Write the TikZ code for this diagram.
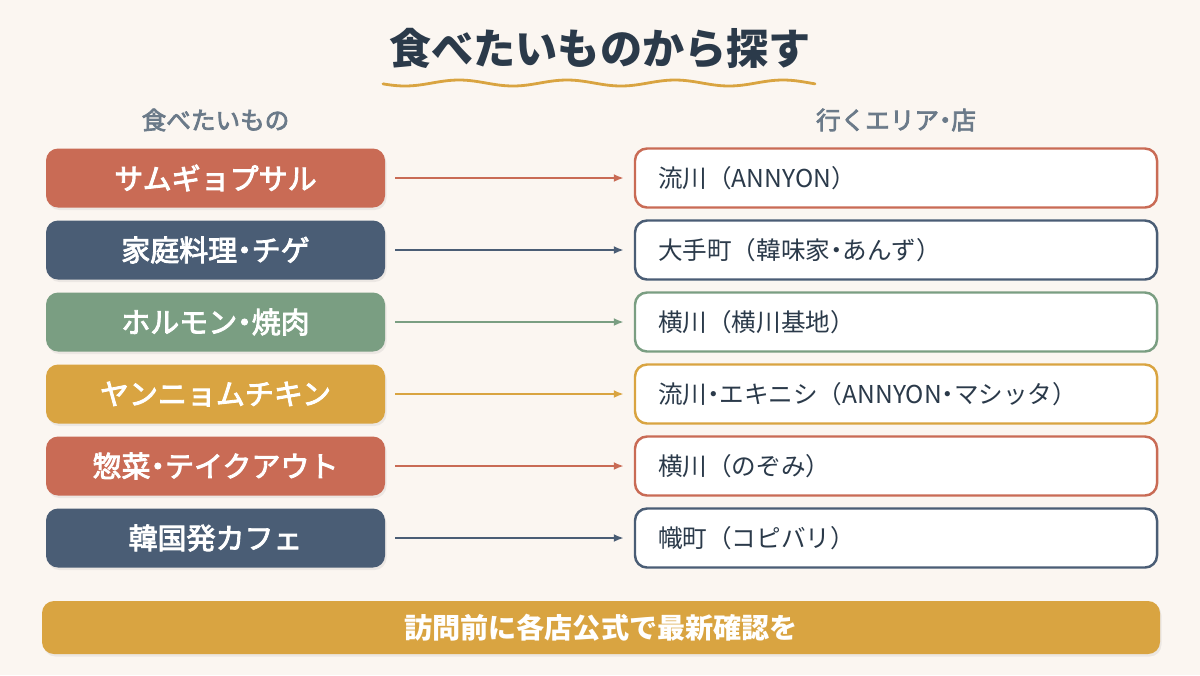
\documentclass[tikz,border=0pt]{standalone}
\usepackage{fontspec}
\setmainfont{Noto Sans CJK JP}
\newfontfamily\medfont[FakeBold=3]{Noto Sans CJK JP}
\newcommand{\nd}{{\addfontfeature{RawFeature=+palt}・}}
\usepackage{xcolor}
\definecolor{fondoK}{HTML}{FBF6F1}
\definecolor{rojoK}{HTML}{C96B55}
\definecolor{azulK}{HTML}{4A5D75}
\definecolor{verdeK}{HTML}{7A9E82}
\definecolor{oroK}{HTML}{D9A441}
\definecolor{tintaK}{HTML}{2B3A4A}
\definecolor{grisK}{HTML}{6B7A89}
\usetikzlibrary{arrows.meta,positioning,shadows}

\begin{document}
\begin{tikzpicture}[
 food/.style={rounded corners=0.24cm,minimum width=6.78cm,minimum height=1.18cm,
 text=white,font=\medfont\fontsize{16.5}{18}\selectfont,
 drop shadow={opacity=0.12,shadow xshift=0.03cm,shadow yshift=-0.05cm}},
 area/.style={draw=#1,fill=white,line width=1.4pt,rounded corners=0.24cm,
 minimum width=10.44cm,minimum height=1.18cm,inner xsep=0.46cm,
 text width=9.52cm,align=left,text=tintaK,font=\fontsize{14}{16}\selectfont},
 header/.style={text=grisK,font=\medfont\fontsize{14}{16}\selectfont},
 arr/.style={-{Latex[length=2mm,width=1.6mm]},line width=1.1pt,
 shorten <=0.2cm,shorten >=0.2cm}]
 \useasboundingbox[fill=fondoK] (0,0) rectangle (24,-13.5);
 % title
 \node[text=tintaK,font=\bfseries\fontsize{24}{28}\selectfont] (title) at (12,-0.96) {食べたいものから探す};
 \draw[oroK,line width=1.6pt,line cap=round] plot[domain=7.66:16.3,samples=120,smooth]
 (\x,{-1.66+0.06*sin(\x/2.16*360)});
 \node[header] (hfood) at (4.31,-2.4) {食べたいもの};
 \node[header] (harea) at (17.92,-2.4) {行くエリア\nd 店};
 % rows
 \node[food,fill=rojoK] (food1) at (4.31,-3.56) {サムギョプサル};
 \node[food,fill=azulK] (food2) at (4.31,-5.0) {家庭料理\nd チゲ};
 \node[food,fill=verdeK] (food3) at (4.31,-6.44) {ホルモン\nd 焼肉};
 \node[food,fill=oroK] (food4) at (4.31,-7.88) {ヤンニョムチキン};
 \node[food,fill=rojoK] (food5) at (4.31,-9.32) {惣菜\nd テイクアウト};
 \node[food,fill=azulK] (food6) at (4.31,-10.76) {韓国発カフェ};
 \node[area=rojoK] (area1) at (17.92,-3.56) {流川（ANNYON）};
 \node[area=azulK] (area2) at (17.92,-5.0) {大手町（韓味家\nd あんず）};
 \node[area=verdeK] (area3) at (17.92,-6.44) {横川（横川基地）};
 \node[area=oroK] (area4) at (17.92,-7.88) {流川\nd エキニシ（ANNYON\nd マシッタ）};
 \node[area=rojoK] (area5) at (17.92,-9.32) {横川（のぞみ）};
 \node[area=azulK] (area6) at (17.92,-10.76) {幟町（コピバリ）};
 \draw[arr,rojoK] (food1) -- (area1);
 \draw[arr,azulK] (food2) -- (area2);
 \draw[arr,verdeK] (food3) -- (area3);
 \draw[arr,oroK] (food4) -- (area4);
 \draw[arr,rojoK] (food5) -- (area5);
 \draw[arr,azulK] (food6) -- (area6);
 % note
 \node[food,fill=oroK,minimum width=22.36cm,minimum height=1.06cm,
 font=\bfseries\fontsize{16}{18}\selectfont] (note) at (12.02,-12.55) {訪問前に各店公式で最新確認を};
\end{tikzpicture}
\end{document}
